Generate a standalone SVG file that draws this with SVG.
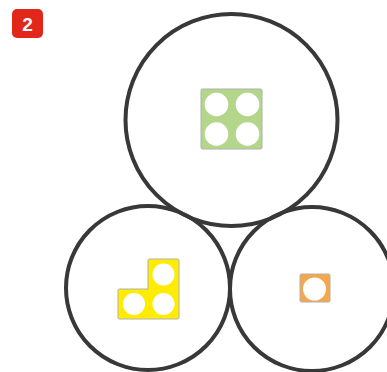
<svg xmlns="http://www.w3.org/2000/svg" width="387" height="372" viewBox="0 0 387 372">
<style>
.ring{fill:none;stroke:#383838;stroke-width:4}
.piece{stroke:#b0b0b0;stroke-width:1}
.hole{fill:#ffffff}
.badge-text{font-family:"Liberation Sans",Arial,sans-serif;font-weight:bold;font-size:19px;fill:#ffffff}
</style>
<rect width="387" height="372" fill="#ffffff"/>
<g id="badge">
<rect x="12" y="9" width="31" height="29" rx="5" fill="#e2271a"/>
<text class="badge-text" x="27.5" y="30.5" text-anchor="middle">2</text>
</g>
<g id="circle-top">
<circle class="ring" cx="231.5" cy="120" r="106"/>
</g>
<g id="circle-left">
<circle class="ring" cx="148" cy="288" r="82"/>
</g>
<g id="circle-right">
<circle class="ring" cx="312" cy="289" r="82"/>
</g>
<g id="green-square">
<rect class="piece" x="201" y="89" width="61" height="60" rx="1.5" fill="#b3d68a"/>
<circle class="hole" cx="216.5" cy="104.5" r="11.8"/>
<circle class="hole" cx="247.5" cy="104.5" r="11.8"/>
<circle class="hole" cx="216.5" cy="134" r="11.8"/>
<circle class="hole" cx="247.5" cy="134" r="11.8"/>
</g>
<g id="yellow-l">
<path class="piece" d="M149.5,259 H177.5 Q179,259 179,260.5 V317.5 Q179,319 177.5,319 H119.5 Q118,319 118,317.5 V290.5 Q118,289 119.5,289 H148 V260.5 Q148,259 149.5,259 Z" fill="#ffec00"/>
<circle class="hole" cx="163.5" cy="274.5" r="11"/>
<circle class="hole" cx="134" cy="304" r="11"/>
<circle class="hole" cx="163.5" cy="304" r="11"/>
</g>
<g id="orange-square">
<rect class="piece" x="300" y="274" width="30" height="28" rx="1.5" fill="#f6a64b"/>
<circle class="hole" cx="314.5" cy="289" r="11.5"/>
</g>
</svg>
